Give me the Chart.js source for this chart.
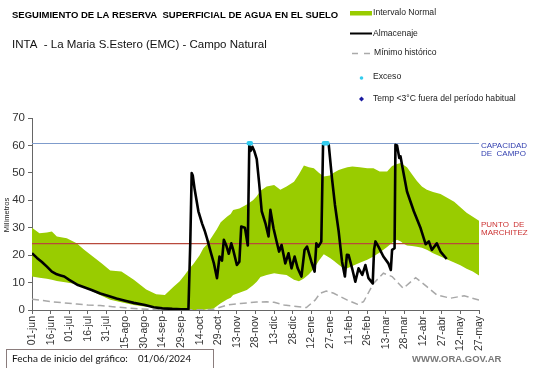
<!DOCTYPE html>
<html><head><meta charset="utf-8">
<script src="https://cdn.jsdelivr.net/npm/chart.js@4/dist/chart.umd.min.js"></script>
<style>html,body{margin:0;padding:0;background:#fff;} canvas{display:block;}</style>
</head><body>
<canvas id="c" width="541" height="368"></canvas>
<script>
const tickLabels = ['01-jun','16-jun','01-jul','16-jul','31-jul','15-ago','30-ago','14-sep','29-sep','14-oct','29-oct','13-nov','28-nov','13-dic','28-dic','12-ene','27-ene','11-feb','26-feb','13-mar','28-mar','12-abr','27-abr','12-may','27-may'];
const tickDays = [0,15,30,45,60,75,90,105,120,135,150,165,180,195,210,225,240,255,270,285,300,315,330,345,360];

const bandDays  = [0,6,12,16,20,28,36,42,49,56,63,72,82,92,100,107,114,119,123,127,130,135,138,141,146,149,152,157,160,162,167,173,178,181,184,189,195,200,205,211,215,219,223,227,231,235,240,243,247,250,254,258,264,270,275,280,286,290,294,297,299,302,306,310,314,318,323,329,334,340,345,350,355,360];
const bandUpper = [30.0,28.0,28.3,28.6,26.8,26.2,24.3,22.0,19.5,17.0,14.4,14.0,11.0,7.5,5.7,5.5,8.5,10.5,12.8,15.2,16.8,20.0,22.5,24.0,27.4,29.5,32.0,34.0,35.0,36.5,37.0,38.5,40.0,41.5,43.5,45.0,45.6,43.8,45.0,46.8,49.5,52.7,52.0,51.7,50.0,48.7,49.0,50.0,51.0,51.5,52.0,52.3,52.0,51.7,51.7,50.5,50.5,52.5,53.2,53.6,53.0,52.0,49.5,47.0,45.0,43.8,43.0,42.3,41.0,39.5,37.5,35.5,34.0,32.5];
const bandLower = [12.2,11.8,11.4,11.0,10.6,10.0,9.4,8.2,6.7,5.2,3.7,2.8,1.8,1.2,1.0,0.7,0.4,0.2,0.0,0.0,0.0,0.0,0.0,0.3,0.5,1.5,2.5,3.8,4.5,5.5,6.3,7.3,9.0,10.3,12.0,12.8,13.4,13.0,12.8,11.0,10.5,11.5,13.0,15.0,18.0,20.3,19.0,18.0,16.5,15.5,15.2,16.0,17.2,18.3,19.5,21.0,23.0,24.5,25.6,25.0,24.2,23.5,23.3,23.1,22.7,22.0,20.7,19.5,18.5,17.3,16.3,15.0,14.0,12.6];

const almDays   = [0,4,8,12,16,20,23,26,30,37,42,48,55,61,68,75,82,91,98,105,113,120,126,127.5,128.6,129.5,131,134,137,139,141,144,146.5,149,151,153,154.5,156.5,158.5,160.5,162,165,167,168.5,171.5,173.8,175,176,177.5,179,181,183,185,188,190.5,192,194.5,197,199,201,204,206.6,209,211.5,214,217,219.5,221.5,225,227.6,229,230.6,233,234.4,236,238,239,241.6,244,247,249.7,252,253.6,255,257.8,260.4,263,266,268.5,271,274.4,275.5,276.6,279,283,287,289,290,292,292.7,294,295.8,296.8,298.5,302,307.5,313,317,319.6,322,326,329,334];
const almValues = [20.7,19.0,17.5,15.8,14.0,13.0,12.6,12.2,11.0,9.1,8.3,7.3,6.0,5.2,4.2,3.4,2.6,1.8,1.0,0.6,0.4,0.3,0.3,25.0,49.9,49.0,44.0,36.0,31.5,29.0,26.0,21.0,17.0,11.6,19.5,18.0,25.6,23.5,20.5,24.3,22.0,16.4,17.6,30.4,30.0,23.5,60.2,58.0,59.5,58.0,55.0,46.0,36.0,31.6,26.8,36.5,29.8,25.0,21.3,23.7,17.0,20.7,15.2,19.5,15.2,12.2,21.9,23.1,17.6,14.0,24.3,23.1,24.9,60.2,61.0,61.0,60.2,48.0,38.3,28.6,17.6,12.2,20.1,20.0,15.2,10.3,15.2,12.8,16.4,11.6,9.7,22.0,25.0,23.1,19.5,17.0,14.6,21.9,22.5,60.2,60.0,55.4,56.0,51.7,43.2,36.0,29.8,24.0,25.0,21.9,24.3,21.3,18.6];

const minDays   = [0,8,16,26,36,45,55,65,75,87,100,120,138,146,150,157,168,181,189,195,203,211,221,228,232,237,243,254,262,267,275,283,290,299,309,318,326,337,348,360];
const minValues = [3.9,3.5,3.0,2.6,2.2,1.8,1.6,1.2,0.8,0.4,0.1,0.1,0.1,0.3,0.8,1.8,2.4,2.9,3.0,2.8,1.8,1.4,0.9,3.6,6.1,6.9,6.1,3.6,2.1,3.0,9.7,13.4,12.2,7.9,11.8,8.5,5.5,4.3,5.2,3.6];

const excesoDays   = [174.5,175.5,176.3,235,236,237,238];
const excesoValues = [60.8,60.8,60.8,60.8,60.8,60.8,60.8];

const capacidadCampo = 60.7;
const puntoMarchitez = 24.2;

const xy = (xs, ys) => xs.map((x, i) => ({x: x, y: ys[i]}));

const GREEN = '#99cc00';

function fitText(ctx, text, x, y, width, family, base) {
  ctx.font = base + 'px ' + family;
  const w = ctx.measureText(text).width;
  const size = base * width / w;
  ctx.font = size.toFixed(2) + 'px ' + family;
  ctx.fillText(text, x, y);
}

const decor = {
  id: 'decor',
  afterDraw(chart) {
    const ctx = chart.ctx;
    ctx.save();
    ctx.textBaseline = 'middle';
    ctx.textAlign = 'left';
    // title
    ctx.fillStyle = '#000';
    ctx.font = 'bold 9.5px "Liberation Sans", Arial, sans-serif';
    ctx.fillText('SEGUIMIENTO DE LA RESERVA  SUPERFICIAL DE AGUA EN EL SUELO', 12, 15);
    ctx.font = '11.5px "Liberation Sans", Arial, sans-serif';
    ctx.fillStyle = '#111';
    ctx.fillText('INTA  - La Maria S.Estero (EMC) - Campo Natural', 12, 45);
    // legend
    ctx.font = '8.6px "Liberation Sans", Arial, sans-serif';
    ctx.fillStyle = GREEN;
    ctx.fillRect(350, 11, 22, 4.5);
    ctx.fillStyle = '#222';
    ctx.fillText('Intervalo Normal', 373, 13);
    ctx.strokeStyle = '#000'; ctx.lineWidth = 2;
    ctx.beginPath(); ctx.moveTo(350, 33.5); ctx.lineTo(372, 33.5); ctx.stroke();
    ctx.fillText('Almacenaje', 373, 34);
    ctx.strokeStyle = '#aaa'; ctx.lineWidth = 1.5;
    ctx.beginPath(); ctx.moveTo(352, 53.5); ctx.lineTo(358, 53.5); ctx.moveTo(364, 53.5); ctx.lineTo(370, 53.5); ctx.stroke();
    ctx.fillText('Mínimo histórico', 374, 53);
    ctx.fillStyle = '#33ccee';
    ctx.beginPath(); ctx.arc(361.5, 78, 1.8, 0, Math.PI * 2); ctx.fill();
    ctx.fillStyle = '#222';
    ctx.fillText('Exceso', 373, 77);
    ctx.fillStyle = '#1a1aa0';
    ctx.beginPath(); ctx.moveTo(361.5, 96.5); ctx.lineTo(364, 99); ctx.lineTo(361.5, 101.5); ctx.lineTo(359, 99); ctx.closePath(); ctx.fill();
    ctx.fillStyle = '#222';
    ctx.fillText('Temp <3°C fuera del período habitual', 373, 99);
    // right labels
    ctx.font = '8px "Liberation Sans", Arial, sans-serif';
    ctx.fillStyle = '#3340b0';
    ctx.fillText('CAPACIDAD', 481, 145.5);
    ctx.fillText('DE  CAMPO', 481, 154);
    ctx.fillStyle = '#cc3333';
    ctx.fillText('PUNTO  DE', 481, 224.5);
    ctx.fillText('MARCHITEZ', 481, 233);
    // y title
    ctx.save();
    ctx.translate(7, 215);
    ctx.rotate(-Math.PI / 2);
    ctx.textAlign = 'center';
    ctx.fillStyle = '#222';
    ctx.font = '7.5px "Liberation Sans", Arial, sans-serif';
    ctx.fillText('Milímetros', 0, 0);
    ctx.restore();
    // bottom box
    ctx.strokeStyle = '#8a7c7c'; ctx.lineWidth = 1;
    ctx.strokeRect(6.5, 349.5, 207, 20);
    ctx.fillStyle = '#111';
    fitText(ctx, 'Fecha de inicio del gráfico:', 12, 358.5, 116, 'Lato, "Open Sans", sans-serif', 11);
    fitText(ctx, '01/06/2024', 138, 358.5, 53, 'Lato, "Open Sans", sans-serif', 11);
    ctx.fillStyle = '#777';
    ctx.font = 'bold 9.5px "Liberation Sans", Arial, sans-serif';
    ctx.fillText('WWW.ORA.GOV.AR', 412, 359);
    ctx.restore();
  }
};

new Chart(document.getElementById('c'), {
  type: 'line',
  data: {
    datasets: [
      { label: 'Exceso', type: 'scatter', data: xy(excesoDays, excesoValues), showLine: false,
        pointRadius: 2.2, pointBackgroundColor: '#33ccee', pointBorderWidth: 0, order: 0 },
      { label: 'Almacenaje', data: xy(almDays, almValues), borderColor: '#000', borderWidth: 2.6,
        pointRadius: 0, fill: false, tension: 0, order: 1, borderJoinStyle: 'round' },
      { label: 'Marchitez', data: [{x: 0, y: puntoMarchitez}, {x: 360, y: puntoMarchitez}],
        borderColor: '#b8493c', borderWidth: 1.2, pointRadius: 0, fill: false, order: 2 },
      { label: 'Capacidad', data: [{x: 0, y: capacidadCampo}, {x: 360, y: capacidadCampo}],
        borderColor: '#7f9ccc', borderWidth: 1.2, pointRadius: 0, fill: false, order: 3 },
      { label: 'Mínimo histórico', data: xy(minDays, minValues), borderColor: '#a8a8a8', borderWidth: 1.5,
        borderDash: [7, 4], pointRadius: 0, fill: false, tension: 0, order: 4 },
      { label: 'Lower', data: xy(bandDays, bandLower), borderWidth: 0, borderColor: 'rgba(0,0,0,0)',
        pointRadius: 0, fill: false, tension: 0, order: 6 },
      { label: 'Intervalo Normal', data: xy(bandDays, bandUpper), borderWidth: 0, borderColor: 'rgba(0,0,0,0)',
        backgroundColor: GREEN, pointRadius: 0, fill: 5, tension: 0, order: 5 }
    ]
  },
  options: {
    responsive: false,
    animation: false,
    events: [],
    layout: { padding: { top: 118, right: 62, left: 0, bottom: 0 } },
    plugins: { legend: { display: false }, tooltip: { enabled: false }, title: { display: false } },
    scales: {
      x: {
        type: 'linear', min: 0, max: 360,
        afterFit(s) { s.height = 58; },
        afterBuildTicks(s) { s.ticks = tickDays.map(v => ({value: v})); },
        ticks: {
          autoSkip: false, minRotation: 90, maxRotation: 90, padding: 2,
          color: '#333', font: { family: '"Liberation Sans", Arial, sans-serif', size: 10.5 },
          callback: (v) => tickLabels[tickDays.indexOf(v)]
        },
        grid: { display: true, drawOnChartArea: false, drawTicks: true, tickLength: 4, color: '#666' },
        border: { display: true, color: '#666', width: 1 }
      },
      y: {
        min: 0, max: 70,
        afterFit(s) { s.width = 32; },
        ticks: { stepSize: 10, padding: 3, color: '#333',
          font: { family: '"Liberation Sans", Arial, sans-serif', size: 11.5 } },
        grid: { display: true, drawOnChartArea: false, drawTicks: true, tickLength: 4, color: '#666' },
        border: { display: true, color: '#666', width: 1 }
      }
    }
  },
  plugins: [decor]
});
</script>
</body></html>
